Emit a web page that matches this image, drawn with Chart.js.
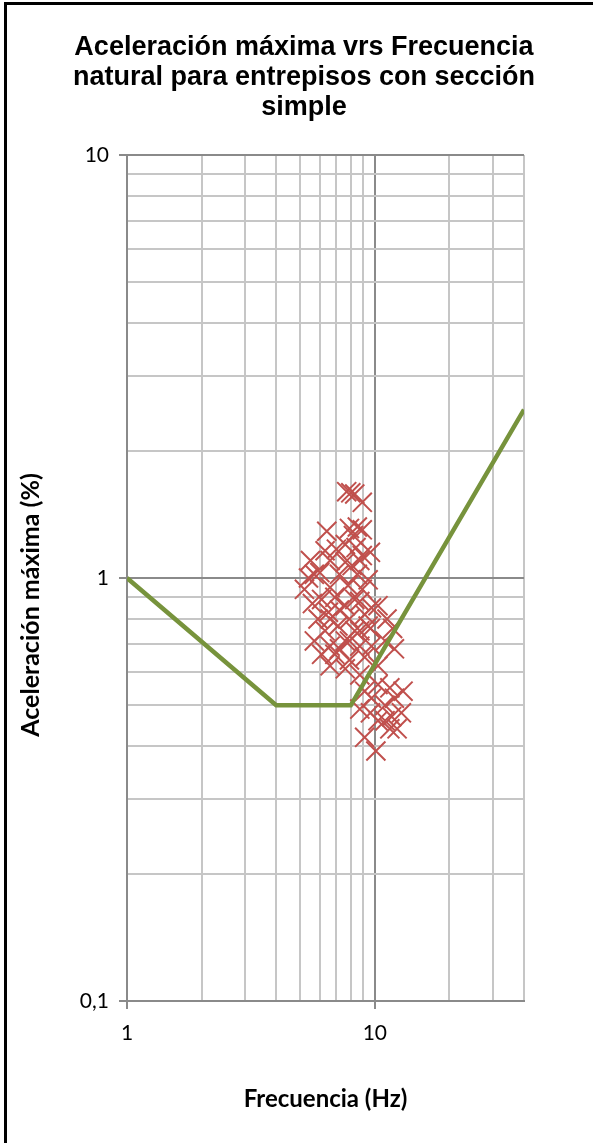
<!DOCTYPE html>
<html>
<head>
<meta charset="utf-8">
<script src="https://cdn.jsdelivr.net/npm/chart.js@4.4.1/dist/chart.umd.min.js"></script>
<style>
  html, body { margin: 0; padding: 0; background: #fff; }
  #wrap { position: relative; width: 593px; height: 1143px; overflow: hidden; }
  canvas { position: absolute; left: 0; top: 0; }
  #frame { position: absolute; left: 4px; top: 2px; right: -10px; bottom: -10px;
           border-left: 3px solid #000; border-top: 3px solid #000; pointer-events: none; }
</style>
</head>
<body>
<div id="wrap">
  <canvas id="grafico" width="593" height="1143"></canvas>
  <div id="frame"></div>
</div>
<script>
// Chart texts
const tituloLineas = ['Aceleración máxima vrs Frecuencia', 'natural para entrepisos con sección', 'simple'];
const tituloEjeX = 'Frecuencia (Hz)';
const tituloEjeY = 'Aceleración máxima (%)';

// Measured floors: natural frequency (Hz) and peak acceleration (%)
const frecuencias = [7.7, 8.0, 8.3, 8.9, 6.4, 7.9, 8.5, 8.9, 8.2, 7.0, 8.4, 8.9, 9.6, 7.6, 6.6, 8.1,
  5.4, 5.7, 6.0, 7.2, 8.5, 9.4, 7.8, 6.6, 8.9, 5.6, 6.1, 6.9, 7.6, 8.7, 9.7, 6.5, 5.9, 7.9, 9.1, 10.3,
  6.3, 7.1, 8.3, 9.6, 7.6, 6.6, 8.7, 11.2, 11.0, 6.9, 7.9, 9.1, 7.6, 10.3, 8.7, 6.6,
  9.1, 10.3, 11.5, 13.0, 9.7, 11.0, 8.7, 12.0, 9.6, 10.3, 11.7, 12.8, 11.0, 12.3, 11.5, 9.1, 10.1,
  12.0, 11.8, 5.2, 5.7, 6.1, 7.2, 8.3, 7.2, 9.7, 7.9, 9.4, 5.5, 6.3, 7.6, 8.7, 6.6, 8.7];
const aceleraciones = [1.60, 1.59, 1.58, 1.51, 1.29, 1.31, 1.32, 1.30, 1.26, 1.17, 1.18, 1.13, 1.15, 1.09, 1.10, 1.07,
  1.00, 1.02, 1.03, 1.02, 1.02, 0.99, 0.96, 0.95, 0.94, 0.87, 0.89, 0.90, 0.86, 0.88, 0.85, 0.83, 0.80, 0.80, 0.82, 0.86,
  0.75, 0.77, 0.75, 0.76, 0.71, 0.69, 0.69, 0.80, 0.71, 0.66, 0.64, 0.65, 0.61, 0.62, 0.59, 0.62,
  0.54, 0.56, 0.55, 0.54, 0.52, 0.50, 0.49, 0.52, 0.48, 0.46, 0.47, 0.48, 0.46, 0.44, 0.44, 0.42, 0.39,
  0.68, 0.76, 0.94, 0.71, 0.66, 0.84, 0.89, 0.68, 0.69, 0.71, 0.77, 1.10, 1.16, 1.20, 1.10, 0.80, 0.75];

// Limit curve (frequency, acceleration)
const limiteFrecuencia = [1, 4, 8, 40];
const limiteAceleracion = [1, 0.5, 0.5, 2.5];

// Axis ranges and tick positions
const rangoX = [1, 40];
const rangoY = [0.1, 10];
const ticksX = [1, 2, 3, 4, 5, 6, 7, 8, 9, 10, 20, 30, 40];
const ticksY = [0.1, 0.2, 0.3, 0.4, 0.5, 0.6, 0.7, 0.8, 0.9, 1, 2, 3, 4, 5, 6, 7, 8, 9, 10];
const etiquetasX = { 1: '1', 10: '10' };
const etiquetasY = { 0.1: '0,1', 1: '1', 10: '10' };

const esDecada = v => Math.abs(Math.log10(v) - Math.round(Math.log10(v))) < 1e-9;
const gridColor = c => (c.tick && esDecada(c.tick.value)) ? '#8a8a8a' : '#c6c6c6';
const tickColor = c => (c.tick && esDecada(c.tick.value)) ? '#8a8a8a' : 'rgba(0,0,0,0)';

const titulos = {
  id: 'titulos',
  afterDraw(chart) {
    const ctx = chart.ctx;
    ctx.save();
    ctx.fillStyle = '#000';
    ctx.textAlign = 'center';
    ctx.textBaseline = 'middle';
    ctx.font = 'bold 27px "Liberation Sans", Arial, sans-serif';
    tituloLineas.forEach((t, i) => ctx.fillText(t, 304, 48 + i * 30));
    ctx.translate(31, 605);
    ctx.rotate(-Math.PI / 2);
    ctx.font = 'bold 25px Lato, sans-serif';
    ctx.fillText(tituloEjeY, 0, 0);
    ctx.restore();
  }
};

new Chart(document.getElementById('grafico'), {
  type: 'scatter',
  data: {
    datasets: [
      {
        label: 'Límite',
        data: limiteFrecuencia.map((f, i) => ({ x: f, y: limiteAceleracion[i] })),
        showLine: true,
        borderColor: '#77933c',
        borderWidth: 4.5,
        pointRadius: 0,
        tension: 0,
        fill: false
      },
      {
        label: 'Entrepisos',
        data: frecuencias.map((f, i) => ({ x: f, y: aceleraciones[i] })),
        pointStyle: 'crossRot',
        pointRadius: 13.5,
        borderColor: '#c0504d',
        backgroundColor: '#c0504d',
        borderWidth: 2
      }
    ]
  },
  options: {
    responsive: false,
    animation: false,
    devicePixelRatio: 1,
    layout: { padding: { top: 155, right: 69, bottom: 0, left: 0 } },
    plugins: { legend: { display: false }, tooltip: { enabled: false }, title: { display: false } },
    scales: {
      x: {
        type: 'logarithmic',
        min: rangoX[0], max: rangoX[1],
        afterBuildTicks: s => { s.ticks = ticksX.map(v => ({ value: v })); },
        afterFit: s => { s.height = 142; },
        grid: { color: gridColor, lineWidth: 2, tickColor: tickColor, tickLength: 8, drawTicks: true },
        border: { color: '#8a8a8a', width: 2 },
        ticks: {
          autoSkip: false, maxRotation: 0, padding: 12, color: '#000',
          font: { family: 'Lato', size: 21 },
          callback: v => etiquetasX[v] || ''
        },
        title: {
          display: true, text: tituloEjeX, color: '#000',
          font: { family: 'Lato', size: 24, weight: 'bold' },
          padding: { top: 0, bottom: 29 }
        }
      },
      y: {
        type: 'logarithmic',
        min: rangoY[0], max: rangoY[1],
        afterBuildTicks: s => { s.ticks = ticksY.map(v => ({ value: v })); },
        afterFit: s => { s.width = 127; },
        grid: { color: gridColor, lineWidth: 2, tickColor: tickColor, tickLength: 8, drawTicks: true },
        border: { color: '#8a8a8a', width: 2 },
        ticks: {
          autoSkip: false, padding: 10, color: '#000',
          font: { family: 'Lato', size: 21 },
          callback: v => etiquetasY[v] || ''
        }
      }
    }
  },
  plugins: [titulos]
});
</script>
</body>
</html>
